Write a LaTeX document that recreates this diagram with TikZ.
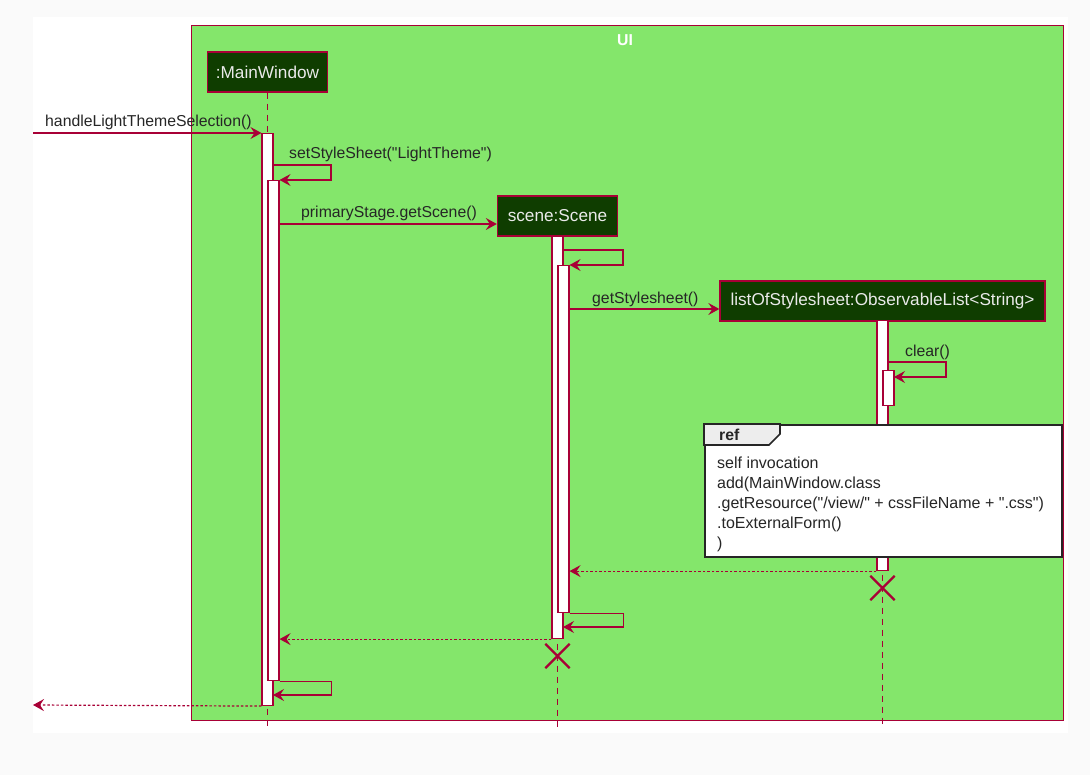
\documentclass[tikz,border=0pt]{standalone}
\usepackage{fontspec}
\setmainfont{Liberation Sans}[Ligatures=TeXOff]
\usetikzlibrary{arrows.meta}
\definecolor{crim}{HTML}{A80036}
\definecolor{uigreen}{HTML}{84E66B}
\definecolor{pfill}{HTML}{0F3D00}
\definecolor{ptext}{HTML}{EAEAEA}
\begin{document}
\begin{tikzpicture}[x=1pt,y=-1pt,
  msg/.style={draw=crim, line width=1.2pt, -{Stealth[length=11pt,width=12pt,inset=4pt]}},
  ret/.style={msg, dash pattern=on 2.5pt off 2pt},
  life/.style={draw=crim, line width=1.1pt, dash pattern=on 6pt off 5pt},
  part/.style={draw=crim, fill=pfill, line width=1.3pt, text=ptext, font=\fontsize{17.2}{19}\selectfont, minimum height=40pt, inner sep=0pt},
  actbar/.style={draw=crim, fill=white, line width=1.1pt, minimum width=11pt, inner sep=0pt, anchor=north},
  lbl/.style={font=\fontsize{15.8}{18}\selectfont, text=black!85, anchor=base west, inner sep=0pt},
  reftxt/.style={font=\fontsize{16}{20}\selectfont, text=black!85, anchor=base west, inner sep=0pt},
  kill/.style={draw=crim, line width=2.2pt}
]
\useasboundingbox (0,0) rectangle (1090,775);
\fill[black!2] (0,0) rectangle (1090,775);
\fill[white] (33,17) rectangle (1068,733);
% frame
\node[draw=crim, fill=uigreen, line width=1.3pt, minimum width=872pt, minimum height=695pt, anchor=north west, inner sep=0pt] (ui) at (191,25) {};
\node[font=\bfseries\fontsize{15.8}{18}\selectfont, text=white] (uit) at (625,40) {UI};
% participants
\node[part, minimum width=120pt] (mw) at (267.5,72) {:MainWindow};
\node[part, minimum width=120pt] (sc) at (557.5,216) {scene:Scene};
\node[part, minimum width=325pt] (ol) at (882.5,301) {listOfStylesheet:ObservableList<String>};
% lifelines
\coordinate (mwE) at (267.5,728);
\coordinate (scE) at (557.5,728);
\coordinate (olE) at (882.5,728);
\draw[life] (mw.south) -- (mwE);
\draw[life] (sc.south) -- (scE);
\draw[life] (ol.south) -- (olE);
% activation bars
\node[actbar, minimum height=572pt] (mwA) at (267.5,133) {};
\node[actbar, minimum height=500pt] (mwB) at (273.5,180) {};
\node[actbar, minimum height=402pt] (scA) at (557.5,236) {};
\node[actbar, minimum height=347pt] (scB) at (563.5,265) {};
\node[actbar, minimum height=250pt] (olA) at (882.5,320) {};
\node[actbar, minimum height=35pt] (olB) at (888.5,370) {};
% messages
\coordinate (inS) at (33,133);
\draw[msg] (inS) -- (mwA.north west);
\node[lbl] (l1) at (45,127) {handleLightThemeSelection()};
\coordinate (s1) at (273,165);
\draw[msg] (s1) -- ++(58,0) |- (mwB.north east);
\node[lbl] (l2) at (289,159) {setStyleSheet("LightTheme")};
\coordinate (m3) at (279,224);
\draw[msg] (m3) -- (m3 -| sc.west);
\node[lbl] (l3) at (301,218) {primaryStage.getScene()};
\coordinate (s2) at (563,250);
\draw[msg] (s2) -- ++(60,0) |- (scB.north east);
\coordinate (m5) at (569,309);
\draw[msg] (m5) -- (m5 -| ol.west);
\node[lbl] (l5) at (592,304) {getStylesheet()};
\coordinate (s3) at (888,362);
\coordinate (s3e) at (894,377);
\draw[msg] (s3) -- ++(58,0) |- (s3e);
\node[lbl] (l6) at (905,357) {clear()};
% ref box
\node[draw=black!85, fill=white, line width=2pt, minimum width=357pt, minimum height=132pt, anchor=north west, inner sep=0pt] (ref) at (704,424) {};
\draw[draw=black!85, fill=black!7, line width=1.6pt, line join=miter] (ref.north west) -- ++(76,0) -- ++(0,10) -- ++(-11,11) -- ++(-65,0) -- cycle;
\node[font=\bfseries\fontsize{15.8}{18}\selectfont, text=black!85, anchor=base west, inner sep=0pt] (reft) at (719,441) {ref};
\node[reftxt] (r1) at (717,468) {self invocation};
\node[reftxt] (r2) at (717,488) {add(MainWindow.class};
\node[reftxt] (r3) at (717,508) {.getResource("/view/" + cssFileName + ".css")};
\node[reftxt] (r4) at (717,528) {.toExternalForm()};
\node[reftxt] (r5) at (717,548) {)};
% returns and destruction
\draw[ret] (olA.south west) -- (olA.south west -| scB.east);
\node[inner sep=0pt, minimum size=24pt] (x1) at (882.5,588) {};
\draw[kill] (x1.north west) -- (x1.south east) (x1.south west) -- (x1.north east);
\coordinate (s4e) at (563,627);
\draw[msg] (scB.south east) -- ++(54,0) |- (s4e);
\draw[ret] (scA.south west) -- (scA.south west -| mwB.east);
\node[inner sep=0pt, minimum size=24pt] (x2) at (557.5,656) {};
\draw[kill] (x2.north west) -- (x2.south east) (x2.south west) -- (x2.north east);
\coordinate (s5e) at (273,695);
\draw[msg] (mwB.south east) -- ++(52,0) |- (s5e);
\coordinate (outE) at (33,705);
\draw[ret] (mwA.south west) -- (outE);
\end{tikzpicture}
\end{document}
